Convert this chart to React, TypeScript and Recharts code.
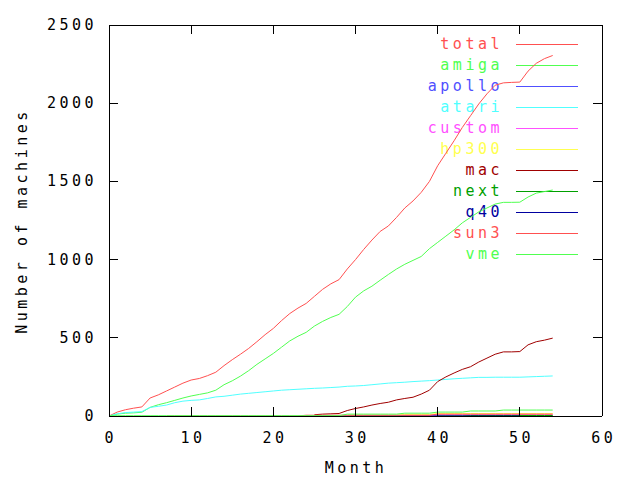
import React from 'react';
import { LineChart, Line, XAxis, YAxis } from 'recharts';

const months = [
  0, 1, 2, 3, 4, 5, 6, 7, 8, 9, 10, 11, 12, 13, 14, 15, 16, 17, 18, 19, 20, 21, 22, 23, 24, 25, 26, 27,
  28, 29, 30, 31, 32, 33, 34, 35, 36, 37, 38, 39, 40, 41, 42, 43, 44, 45, 46, 47, 48, 49, 50, 51, 52, 53, 54,
];

const total = [
  0, 25, 40, 50, 58, 115, 135, 160, 185, 210, 230, 240, 258, 280, 322, 360, 395, 432, 475, 520, 560, 610, 655,
  690, 720, 765, 810, 845, 872, 940, 1000, 1065, 1125, 1180, 1215, 1270, 1330, 1375, 1430, 1500, 1600, 1680,
  1760, 1845, 1920, 1995, 2060, 2115, 2130, 2133, 2135, 2205, 2255, 2285, 2305,
];
const amiga = [
  0, 12, 18, 20, 24, 55, 72, 85, 100, 115, 128, 138, 148, 165, 200, 225, 255, 290, 330, 365, 400, 440, 480, 510,
  535, 575, 605, 630, 650, 700, 760, 800, 830, 868, 905, 940, 970, 995, 1020, 1070, 1110, 1150, 1190, 1235, 1270,
  1305, 1330, 1355, 1366, 1366, 1367, 1400, 1425, 1435, 1445,
];
const apollo = [
  null, null, null, null, null, null, null, null, null, null, null, null, null, null, null, null, null, null,
  null, null, null, null, null, null, null, null, null, null, null, null, 1, 1, 1, 1, 1, 1, 1, 1, 1, 1, 1, 1, 1,
  1, 1, 1, 1, 1, 1, 1, 1, 1, 1, 1, 1,
];
const atari = [
  0, 14, 22, 25, 28, 55, 62, 70, 85, 95, 100, 103, 112, 122, 126, 133, 140, 145, 150, 155, 160, 165, 168, 171,
  174, 177, 179, 182, 185, 190, 192, 195, 200, 205, 210, 213, 216, 220, 223, 226, 230, 234, 238, 241, 244, 247,
  247, 248, 248, 248, 248, 250, 252, 254, 256,
];
const custom = [
  null, null, null, null, null, null, null, null, null, null, null, null, null, null, null, null, null, null,
  null, null, null, null, null, null, null, null, null, null, null, null, null, null, null, null, null, null, 5,
  5, 5, 5, 8, 8, 8, 8, 8, 8, 8, 8, 8, 8, 8, 8, 8, 8, 8,
];
const hp300 = [
  null, null, null, null, null, null, null, null, null, null, null, null, null, null, null, null, null, null,
  null, null, null, null, null, null, null, null, null, null, null, 5, 5, 5, 5, 5, 5, 5, 10, 10, 10, 10, 16, 16,
  16, 16, 16, 16, 16, 16, 16, 16, 16, 16, 16, 16, 16,
];
const mac = [
  null, null, null, null, null, null, null, null, null, null, null, null, null, null, null, null, null, null,
  null, null, null, null, null, null, null, 8, 12, 14, 16, 35, 48, 58, 70, 80, 88, 103, 112, 120, 140, 165, 220,
  250, 275, 298, 315, 345, 370, 395, 410, 410, 412, 455, 475, 485, 498,
];
const next = [
  null, null, null, null, null, null, null, null, null, null, null, null, null, null, null, null, null, null,
  null, null, null, null, null, null, null, null, null, null, null, null, null, null, null, null, null, null,
  null, null, null, null, 0, 0, 0, 0, 3, 3, 3, 3, 3, 3, 3, 3, 3, 3, 3,
];
const q40 = [
  null, null, null, null, null, null, null, null, null, null, null, null, null, null, null, null, null, null,
  null, null, null, null, null, null, 0, 0, 0, 0, 0, 0, 0, 0, 0, 0, 0, 0, 0, 0, 0, 0, 0, 0, 0, 0, 0, 0, 0, 0, 0,
  0, 0, null, null, null, null,
];
const sun3 = [
  null, null, null, null, null, null, null, 0, 0, 0, 0, 0, 0, 0, 0, 0, 0, 0, 0, 0, 0, 0, 0, 0, 5, 5, 5, 5, 5, 5,
  5, 5, 5, 5, 5, 5, 5, 5, 5, 5, 12, 12, 12, 12, 12, 12, 12, 12, 12, 12, 12, 12, 12, 12, 12,
];
const vme = [
  2, 2, 2, 2, 2, 2, 2, 2, 2, 2, 2, 2, 2, 2, 2, 2, 2, 2, 2, 2, 2, 2, 2, 2, 2, 2, 2, 2, 2, 12, 12, 12, 12, 12, 12,
  12, 18, 18, 18, 18, 25, 25, 25, 25, 32, 32, 32, 32, 38, 38, 38, 38, 38, 38, 38,
];

const xTicks = [0, 10, 20, 30, 40, 50, 60];
const yTicks = [0, 500, 1000, 1500, 2000, 2500];

const series = [
  { key: 'total', values: total, color: '#ff5050' },
  { key: 'amiga', values: amiga, color: '#50ff50' },
  { key: 'apollo', values: apollo, color: '#5050ff' },
  { key: 'atari', values: atari, color: '#50ffff' },
  { key: 'custom', values: custom, color: '#ff50ff' },
  { key: 'hp300', values: hp300, color: '#ffff50' },
  { key: 'mac', values: mac, color: '#a00000' },
  { key: 'next', values: next, color: '#00a000' },
  { key: 'q40', values: q40, color: '#0000a0' },
  { key: 'sun3', values: sun3, color: '#ff5050' },
  { key: 'vme', values: vme, color: '#50ff50' },
];

const data = months.map((m, i) => {
  const row: Record<string, number | null> = { month: m };
  series.forEach((s) => {
    row[s.key] = s.values[i];
  });
  return row;
});

// plot box, matching the chart margins / axis sizes below
const W = 640;
const H = 480;
const LEFT = 109;
const RIGHT = 602;
const TOP = 25;
const BOTTOM = 416;
const TICK = 9;
const sx = (v: number) => LEFT + ((v - xTicks[0]) / (xTicks[xTicks.length - 1] - xTicks[0])) * (RIGHT - LEFT);
const sy = (v: number) => BOTTOM - ((v - yTicks[0]) / (yTicks[yTicks.length - 1] - yTicks[0])) * (BOTTOM - TOP);

const font = { fontFamily: '"DejaVu Sans Mono", monospace', fontSize: 15, letterSpacing: 3.5 };
const crisp = { stroke: '#000', strokeWidth: 1, shapeRendering: 'crispEdges' as const };

const BottomTick = (props: any) => {
  const { x, y, payload } = props;
  return (
    <text x={x + 1.75} y={y + 27} textAnchor="middle" fill="#000" style={font}>
      {payload.value}
    </text>
  );
};
const LeftTick = (props: any) => {
  const { x, y, payload } = props;
  return (
    <text x={x - 12} y={y + 5} textAnchor="end" fill="#000" style={font}>
      {payload.value}
    </text>
  );
};
const NoTick = () => <g />;

export default function App() {
  return (
    <div style={{ position: 'absolute', left: 0, top: 0, width: W, height: H, background: '#fff' }}>
      <svg width={W} height={H} style={{ position: 'absolute', left: 0, top: 0 }}>
        {series.map((s, i) => (
          <g key={s.key}>
            <text x={503} y={49 + i * 21} textAnchor="end" fill={s.color} style={font}>
              {s.key}
            </text>
            <line
              x1={516}
              y1={44 + i * 21}
              x2={578}
              y2={44 + i * 21}
              stroke={s.color}
              shapeRendering="crispEdges"
            />
          </g>
        ))}
        <text x={356} y={473} textAnchor="middle" fill="#000" style={font}>
          Month
        </text>
        <text
          x={0}
          y={0}
          transform="translate(27 221) rotate(-90)"
          textAnchor="middle"
          fill="#000"
          style={font}
        >
          Number of machines
        </text>
      </svg>
      <div style={{ position: 'absolute', left: 0, top: 0 }}>
        <LineChart width={W} height={H} data={data} margin={{ top: TOP - 1, right: W - RIGHT - 1, bottom: 0, left: 0 }}>
          <XAxis
            xAxisId="b"
            dataKey="month"
            type="number"
            domain={[0, 60]}
            ticks={xTicks}
            tick={<BottomTick />}
            tickLine={false}
            tickSize={0}
            tickMargin={0}
            height={H - BOTTOM}
            axisLine={crisp}
          />
          <XAxis
            xAxisId="t"
            orientation="top"
            dataKey="month"
            type="number"
            domain={[0, 60]}
            ticks={xTicks}
            tick={<NoTick />}
            tickLine={false}
            height={1}
            axisLine={crisp}
          />
          <YAxis
            yAxisId="l"
            domain={[0, 2500]}
            ticks={yTicks}
            tick={<LeftTick />}
            tickLine={false}
            tickSize={0}
            tickMargin={0}
            width={LEFT}
            axisLine={crisp}
          />
          <YAxis
            yAxisId="r"
            orientation="right"
            domain={[0, 2500]}
            ticks={yTicks}
            tick={<NoTick />}
            tickLine={false}
            width={1}
            axisLine={crisp}
          />
          {series.map((s) => (
            <Line
              key={s.key}
              xAxisId="b"
              yAxisId="l"
              type="linear"
              dataKey={s.key}
              stroke={s.color}
              strokeWidth={1}
              dot={false}
              isAnimationActive={false}
              connectNulls={false}
            />
          ))}
        </LineChart>
      </div>
      {/* inward tick marks on all four sides, gnuplot style */}
      <svg width={W} height={H} style={{ position: 'absolute', left: 0, top: 0, pointerEvents: 'none' }}>
        {xTicks.map((t) => (
          <g key={'x' + t}>
            <line x1={sx(t)} y1={BOTTOM} x2={sx(t)} y2={BOTTOM - TICK} {...crisp} />
            <line x1={sx(t)} y1={TOP} x2={sx(t)} y2={TOP + TICK} {...crisp} />
          </g>
        ))}
        {yTicks.map((t) => (
          <g key={'y' + t}>
            <line x1={LEFT} y1={sy(t)} x2={LEFT + TICK} y2={sy(t)} {...crisp} />
            <line x1={RIGHT} y1={sy(t)} x2={RIGHT - TICK} y2={sy(t)} {...crisp} />
          </g>
        ))}
      </svg>
    </div>
  );
}
